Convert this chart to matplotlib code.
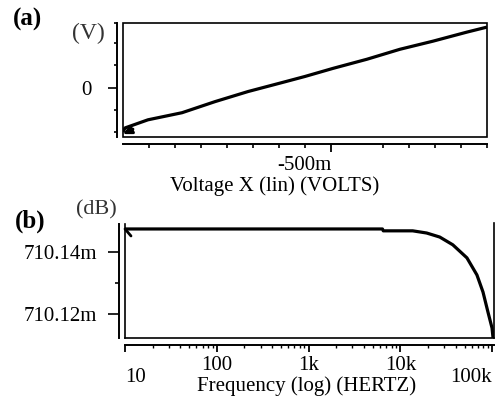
import numpy as np
import matplotlib.pyplot as plt
from matplotlib.patches import Rectangle
from matplotlib.lines import Line2D

plt.rcParams['font.family'] = 'Liberation Serif'

W, H = 496, 399
PT = 0.72  # points per pixel at dpi 100


def box(l, t, r, b):
    return [l / W, 1 - b / H, (r - l) / W, (b - t) / H]


# (a) DC transfer curve
vx = [-1.3, -1.292, -1.204, -1.073, -0.946, -0.819, -0.688, -0.600, -0.492,
      -0.362, -0.235, -0.108, 0.023, 0.1]
vy = [-0.40, -0.364, -0.291, -0.227, -0.127, -0.036, 0.045, 0.100, 0.173,
      0.255, 0.345, 0.418, 0.500, 0.545]
a_minor_x = [-1.2, -1.1, -1.0, -0.9, -0.8, -0.7, -0.6, -0.3, -0.2, -0.1, 0.0, 0.1]
a_major_x = [-0.5]
a_xlabels = ['-500m']
a_minor_y = [-0.4, -0.2, 0.2, 0.4, 0.58]
a_major_y = [0.0]
a_ylabels = ['0']

# (b) AC magnitude
freq = [10, 100, 1e3, 6.37e3, 6.5e3, 13.6e3, 19.3e3, 26.8e3, 37.2e3, 53.0e3,
        68.1e3, 79.3e3, 89.9e3, 99.5e3, 102e3]
gain = [0.7101474, 0.7101474, 0.7101474, 0.7101474, 0.7101468, 0.7101468, 0.7101461,
        0.7101448, 0.7101423, 0.7101381, 0.7101326, 0.7101271, 0.7101206, 0.7101155,
        0.7101123]
b_major_x = [10, 100, 1e3, 1e4, 1e5]
b_xlabels = ['10', '100', '1k', '10k', '100k']
b_label_drop = [12, 0, 0, 0, 12]
b_label_ha = ['left', 'center', 'center', 'center', 'right']
b_major_y = [0.71012, 0.71014]
b_ylabels = ['710.12m', '710.14m']
b_minor_y = [0.71013]

FS = 15
fig = plt.figure(figsize=(W / 100, H / 100), dpi=100)

# ---- panel (a)
ax = fig.add_axes(box(123, 23, 487, 137))
ax.plot(vx, vy, color='black', lw=2.3, solid_capstyle='butt')
ax.annotate('', xy=(vx[0], vy[0] - 0.02), xytext=(10 * PT, 5 * PT), textcoords='offset points',
            arrowprops=dict(arrowstyle='-|>,head_length=0.5,head_width=0.25', color='black',
                            lw=2.0, shrinkA=0, shrinkB=0))
ax.set_xlim(-1.3, 0.1)
ax.set_ylim(-0.446, 0.582)
for s in ['top', 'right']:
    ax.spines[s].set_visible(False)
ax.spines['left'].set_position(('outward', 6 * PT))
ax.spines['bottom'].set_position(('outward', 7 * PT))
ax.spines['left'].set_linewidth(1.4)
ax.spines['bottom'].set_linewidth(1.4)
ax.add_patch(Rectangle((0, 0), 1, 1, transform=ax.transAxes, fill=False,
                       lw=1.2, ec='black', clip_on=False))
ax.set_yticks(a_major_y, a_ylabels)
ax.set_yticks(a_minor_y, minor=True)
ax.set_xticks(a_major_x, [''])
ax.set_xticks(a_minor_x, minor=True)
ax.tick_params(axis='y', which='major', length=9 * PT, width=1.2, pad=16 * PT, labelsize=FS)
ax.tick_params(axis='y', which='minor', length=3 * PT, width=1.2)
ax.tick_params(axis='x', which='major', length=8 * PT, width=1.3)
ax.tick_params(axis='x', which='minor', length=4 * PT, width=1.2)
for v, lab in zip(a_major_x, a_xlabels):
    ax.annotate(lab, xy=(v, 0), xycoords=('data', 'axes fraction'),
                xytext=(0, -29 * PT), textcoords='offset points',
                ha='right', va='center', fontsize=FS)
fig.text(275 / W, 1 - 186 / H, 'Voltage X (lin) (VOLTS)', ha='center', va='center', fontsize=FS)
fig.text(88 / W, 1 - 33 / H, '(V)', ha='center', va='center', fontsize=17, color='#333333')
fig.text(28 / W, 1 - 19 / H, '(a)', ha='center', va='center', fontsize=18, fontweight='bold')

# ---- panel (b)
bx = fig.add_axes(box(125, 224, 494, 338))
bx.semilogx(freq, gain, color='black', lw=2.3)
bx.annotate('', xy=(freq[0], gain[0]), xytext=(6 * PT, -7 * PT), textcoords='offset points',
            arrowprops=dict(arrowstyle='-', color='black', lw=2.0, shrinkA=0, shrinkB=0))
bx.set_xlim(10, 1.045e5)
bx.set_ylim(0.7101123, 0.710149)
for s in ['top', 'right']:
    bx.spines[s].set_visible(False)
bx.spines['left'].set_position(('outward', 6 * PT))
bx.spines['bottom'].set_position(('outward', 7 * PT))
bx.spines['left'].set_linewidth(1.4)
bx.spines['bottom'].set_linewidth(1.4)
for xs, ys in [([0, 0], [0, 1]), ([1, 1], [0, 1.01]), ([0, 1], [0, 0])]:
    bx.add_line(Line2D(xs, ys, transform=bx.transAxes, color='black', lw=1.2, clip_on=False))
bx.set_yticks(b_major_y, b_ylabels)
bx.set_yticks(b_minor_y, minor=True)
bx.set_xticks(b_major_x, [''] * len(b_major_x))
bx.xaxis.set_minor_formatter(plt.NullFormatter())
bx.tick_params(axis='y', which='major', length=11 * PT, width=1.2, pad=11 * PT, labelsize=FS)
bx.tick_params(axis='y', which='minor', length=4 * PT, width=1.2)
bx.tick_params(axis='x', which='major', length=7 * PT, width=1.3)
bx.tick_params(axis='x', which='minor', length=3 * PT, width=1.0)
for v, lab, d, ha in zip(b_major_x, b_xlabels, b_label_drop, b_label_ha):
    bx.annotate(lab, xy=(v, 0), xycoords=('data', 'axes fraction'),
                xytext=(0, -(27 + d) * PT), textcoords='offset points',
                ha=ha, va='center', fontsize=FS)
fig.text(307 / W, 1 - 386 / H, 'Frequency (log) (HERTZ)', ha='center', va='center', fontsize=FS)
fig.text(96 / W, 1 - 210 / H, '(dB)', ha='center', va='center', fontsize=16, color='#333333')
fig.text(30 / W, 1 - 221 / H, '(b)', ha='center', va='center', fontsize=18, fontweight='bold')

fig.savefig('out.png', dpi=100)
